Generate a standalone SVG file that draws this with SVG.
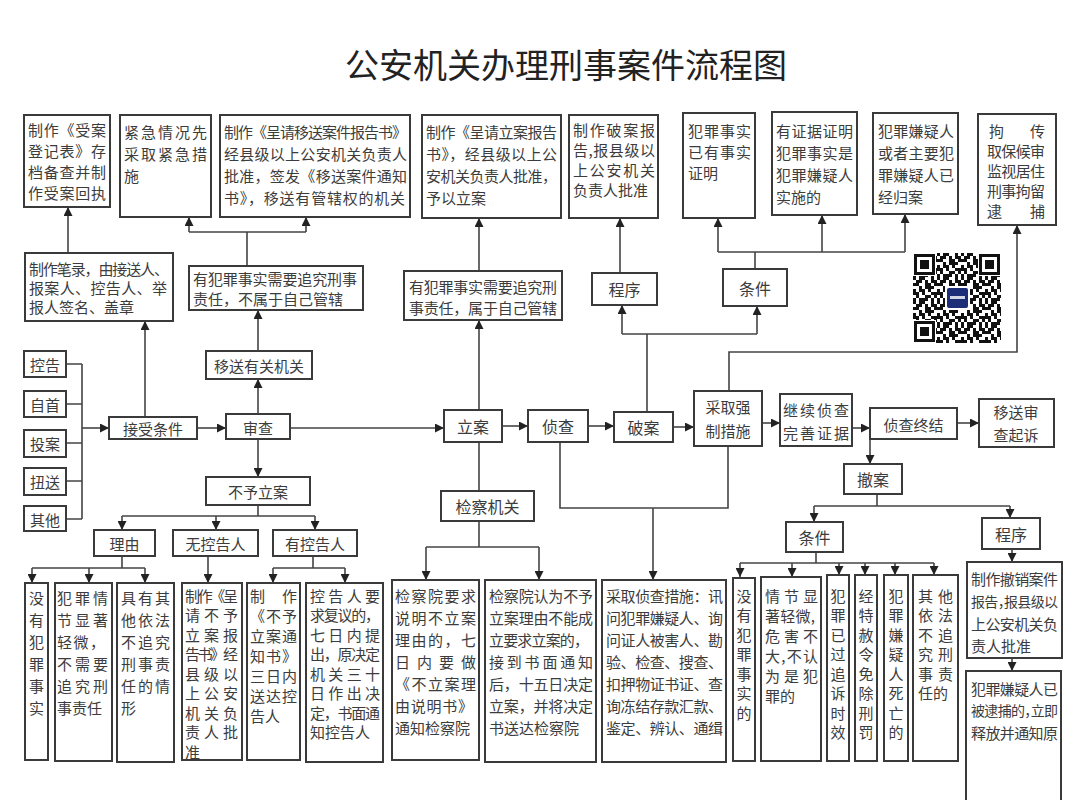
<svg xmlns="http://www.w3.org/2000/svg" width="1086" height="800" viewBox="0 0 1086 800">
<style>
.b{fill:#fff;stroke:#3a3a3a;stroke-width:2}
.t{font-family:"Noto Sans CJK SC","Noto Sans CJK TC",sans-serif;font-size:15px;fill:#3c3c3c;dominant-baseline:central}
.s{font-size:16px}
.h{font-size:14px;font-feature-settings:"halt"}
.c{text-anchor:middle}
.l{stroke:#444;stroke-width:1.6;fill:none}
.a{marker-end:url(#ah)}
.title{font-family:"Noto Sans CJK SC",sans-serif;font-size:34px;fill:#222;text-anchor:middle;dominant-baseline:central}
</style>
<defs>
<marker id="ah" markerWidth="9" markerHeight="9" refX="9" refY="4.5" orient="auto" markerUnits="userSpaceOnUse"><path d="M0,0 L9,4.5 L0,9 z" fill="#222"/></marker>
<pattern id="qrp" width="24" height="24" patternUnits="userSpaceOnUse" x="913" y="253"><path fill="#111" d="M0 0h3v3h-3z M6 0h6v3h-6z M18 0h3v3h-3z M3 3h6v3h-6z M12 3h3v3h-3z M18 3h6v3h-6z M0 6h6v3h-6z M12 6h6v3h-6z M21 6h3v3h-3z M6 9h3v3h-3z M12 9h9v3h-9z M0 12h3v3h-3z M6 12h6v3h-6z M15 12h3v3h-3z M0 15h6v3h-6z M9 15h3v3h-3z M18 15h6v3h-6z M3 18h3v3h-3z M12 18h6v3h-6z M21 18h3v3h-3z M0 21h3v3h-3z M6 21h9v3h-9z M18 21h3v3h-3z"/></pattern>
</defs>
<rect width="1086" height="800" fill="#fff"/>
<text class="title" x="566" y="63">公安机关办理刑事案件流程图</text>

<g id="connectors">
<path class="l" d="M66 364H82 M66 404H82 M66 443H82 M66 481H82 M66 519H82 M82 364V519"/>
<path class="l a" d="M82 428H109"/>
<path class="l a" d="M197 428H226"/>
<path class="l a" d="M145 417V321"/>
<path class="l a" d="M68 253V207"/>
<path class="l a" d="M258 414V379"/>
<path class="l a" d="M258 351V310"/>
<path class="l" d="M247 266V232 M189 232H306"/>
<path class="l a" d="M189 232V217"/>
<path class="l a" d="M306 232V217"/>
<path class="l a" d="M290 428H444"/>
<path class="l a" d="M258 439V477"/>
<path class="l" d="M258 505V516 M122 516H315"/>
<path class="l a" d="M122 516V530"/>
<path class="l a" d="M216 516V530"/>
<path class="l a" d="M315 516V530"/>
<path class="l" d="M122 556V568 M32 568H145"/>
<path class="l a" d="M32 568V583"/>
<path class="l a" d="M89 568V583"/>
<path class="l a" d="M145 568V583"/>
<path class="l a" d="M208 556V583"/>
<path class="l" d="M313 556V568 M273 568H345"/>
<path class="l a" d="M273 568V583"/>
<path class="l a" d="M345 568V583"/>
<path class="l a" d="M479 410V320"/>
<path class="l a" d="M479 271V218"/>
<path class="l" d="M479 442V491 M479 521V547 M426 547H539"/>
<path class="l a" d="M426 547V580"/>
<path class="l a" d="M539 547V580"/>
<path class="l a" d="M502 426H528"/>
<path class="l a" d="M588 426H614"/>
<path class="l a" d="M673 427H694"/>
<path class="l a" d="M762 423H780"/>
<path class="l a" d="M852 428H870"/>
<path class="l a" d="M957 423H979"/>
<path class="l" d="M647 412V334 M622 334H757"/>
<path class="l a" d="M622 334V305"/>
<path class="l a" d="M757 334V306"/>
<path class="l a" d="M620 273V218"/>
<path class="l" d="M755 269V252 M718 252H905"/>
<path class="l a" d="M718 252V218"/>
<path class="l a" d="M822 252V215"/>
<path class="l a" d="M905 252V214"/>
<path class="l a" d="M729 391V352H1017V225"/>
<path class="l" d="M560 442V508H728V446"/>
<path class="l a" d="M653 508V580"/>
<path class="l a" d="M870 439V464"/>
<path class="l" d="M877 494V506 M814 506H1010"/>
<path class="l a" d="M814 506V522"/>
<path class="l a" d="M1010 506V518"/>
<path class="l" d="M816 552V563 M740 563H934"/>
<path class="l a" d="M740 563V577"/>
<path class="l a" d="M792 563V577"/>
<path class="l a" d="M839 563V575"/>
<path class="l a" d="M865 563V575"/>
<path class="l a" d="M895 563V575"/>
<path class="l a" d="M934 563V575"/>
<path class="l a" d="M1012 549V562"/>
<path class="l a" d="M1012 658V671"/>
</g>

<g id="n-shouan">
<rect class="b" x="24" y="115" width="86" height="92"/>
<text class="t" x="28" y="129" textLength="78">制作《受案</text>
<text class="t" x="28" y="150" textLength="78">登记表》存</text>
<text class="t" x="28" y="171" textLength="78">档备查并制</text>
<text class="t" x="28" y="192" textLength="78">作受案回执</text>
</g>
<g id="n-jinji">
<rect class="b" x="120" y="115" width="91" height="102"/>
<text class="t" x="124" y="131" textLength="83">紧急情况先</text>
<text class="t" x="124" y="153" textLength="83">采取紧急措</text>
<text class="t" x="124" y="175">施</text>
</g>
<g id="n-yisongbg">
<rect class="b" x="220" y="115" width="190" height="102"/>
<text class="t" x="224" y="131" textLength="183">制作《呈请移送案件报告书》</text>
<text class="t" x="224" y="153" textLength="183">经县级以上公安机关负责人</text>
<text class="t" x="224" y="175" textLength="183">批准，签发《移送案件通知</text>
<text class="t" x="224" y="197" textLength="181">书》，移送有管辖权的机关</text>
</g>
<g id="n-lianbg">
<rect class="b" x="422" y="115" width="139" height="103"/>
<text class="t" x="426" y="131" textLength="131">制作《呈请立案报告</text>
<text class="t" x="426" y="153" textLength="131">书》，经县级以上公</text>
<text class="t" x="426" y="175" textLength="131">安机关负责人批准，</text>
<text class="t" x="426" y="197">予以立案</text>
</g>
<g id="n-poanbg">
<rect class="b" x="569" y="115" width="89" height="103"/>
<text class="t" x="573" y="129" textLength="82">制作破案报</text>
<text class="t" x="573" y="149" textLength="82">告,报县级以</text>
<text class="t" x="573" y="169" textLength="82">上公安机关</text>
<text class="t" x="573" y="189">负责人批准</text>
</g>
<g id="n-tj1">
<rect class="b" x="683" y="113" width="72" height="105"/>
<text class="t" x="688" y="130" textLength="63">犯罪事实</text>
<text class="t" x="688" y="151" textLength="63">已有事实</text>
<text class="t" x="688" y="172">证明</text>
</g>
<g id="n-tj2">
<rect class="b" x="772" y="112" width="85" height="103"/>
<text class="t" x="776" y="130" textLength="77">有证据证明</text>
<text class="t" x="776" y="152" textLength="77">犯罪事实是</text>
<text class="t" x="776" y="174" textLength="77">犯罪嫌疑人</text>
<text class="t" x="776" y="196">实施的</text>
</g>
<g id="n-tj3">
<rect class="b" x="873" y="113" width="85" height="101"/>
<text class="t" x="878" y="130" textLength="76">犯罪嫌疑人</text>
<text class="t" x="878" y="152" textLength="76">或者主要犯</text>
<text class="t" x="878" y="174" textLength="76">罪嫌疑人已</text>
<text class="t" x="878" y="196">经归案</text>
</g>
<g id="n-qiangzhi">
<rect class="b" x="978" y="114" width="78" height="111"/>
<text class="t" x="989" y="130">拘</text>
<text class="t" x="1030" y="130">传</text>
<text class="t" x="987" y="150" textLength="58">取保候审</text>
<text class="t" x="987" y="170" textLength="58">监视居住</text>
<text class="t" x="987" y="190" textLength="58">刑事拘留</text>
<text class="t" x="987" y="210">逮</text>
<text class="t" x="1030" y="210">捕</text>
</g>

<g id="n-bilu">
<rect class="b" x="25" y="253" width="148" height="68"/>
<text class="t" x="29" y="268" textLength="140">制作笔录，由接送人、</text>
<text class="t" x="29" y="287" textLength="138">报案人、控告人、举</text>
<text class="t" x="29" y="306">报人签名、盖章</text>
</g>
<g id="n-bushu">
<rect class="b" x="189" y="266" width="174" height="44"/>
<text class="t" x="193" y="278" textLength="164">有犯罪事实需要追究刑事</text>
<text class="t" x="193" y="298">责任，不属于自己管辖</text>
</g>
<g id="n-yisongjg">
<rect class="b" x="206" y="351" width="106" height="28"/>
<text class="t c" x="259" y="365">移送有关机关</text>
</g>
<g id="n-shuyu">
<rect class="b" x="404" y="271" width="158" height="49"/>
<text class="t" x="409" y="286" textLength="148">有犯罪事实需要追究刑</text>
<text class="t" x="409" y="307" textLength="148">事责任，属于自己管辖</text>
</g>
<g id="n-chengxu1">
<rect class="b" x="592" y="273" width="65" height="32"/>
<text class="t s c" x="624.5" y="289">程序</text>
</g>
<g id="n-tiaojian1">
<rect class="b" x="723" y="269" width="64" height="37"/>
<text class="t s c" x="755" y="288">条件</text>
</g>

<g id="qr">
<rect x="913" y="253" width="88" height="90" fill="#fff"/>
<rect x="913" y="253" width="88" height="90" fill="url(#qrp)"/>
<rect x="913" y="253" width="23" height="23" fill="#fff"/>
<rect x="914" y="254" width="21" height="21" fill="#111"/>
<rect x="917" y="257" width="15" height="15" fill="#fff"/>
<rect x="920" y="260" width="9" height="9" fill="#111"/>
<rect x="978" y="253" width="23" height="23" fill="#fff"/>
<rect x="979" y="254" width="21" height="21" fill="#111"/>
<rect x="982" y="257" width="15" height="15" fill="#fff"/>
<rect x="985" y="260" width="9" height="9" fill="#111"/>
<rect x="913" y="320" width="23" height="23" fill="#fff"/>
<rect x="914" y="321" width="21" height="21" fill="#111"/>
<rect x="917" y="324" width="15" height="15" fill="#fff"/>
<rect x="920" y="327" width="9" height="9" fill="#111"/>
<rect x="945" y="286" width="25" height="24" fill="#fff"/>
<rect x="947" y="288" width="21" height="20" rx="2" fill="#1d2e78"/>
<rect x="950" y="296" width="15" height="3" fill="#fff" opacity="0.8"/>
</g>

<g id="n-konggao"><rect class="b" x="24" y="351" width="42" height="26"/><text class="t c" x="45" y="364">控告</text></g>
<g id="n-zishou"><rect class="b" x="24" y="391" width="42" height="26"/><text class="t c" x="45" y="404">自首</text></g>
<g id="n-touan"><rect class="b" x="24" y="430" width="42" height="27"/><text class="t c" x="45" y="443">投案</text></g>
<g id="n-niusong"><rect class="b" x="24" y="468" width="42" height="27"/><text class="t c" x="45" y="481">扭送</text></g>
<g id="n-qita"><rect class="b" x="24" y="506" width="42" height="25"/><text class="t c" x="45" y="519">其他</text></g>

<g id="n-jieshou"><rect class="b" x="109" y="417" width="88" height="22"/><text class="t c" x="153" y="428">接受条件</text></g>
<g id="n-shencha"><rect class="b" x="226" y="414" width="64" height="25"/><text class="t c" x="258" y="427">审查</text></g>
<g id="n-lian"><rect class="b" x="444" y="410" width="58" height="32"/><text class="t s c" x="473" y="426">立案</text></g>
<g id="n-zhencha"><rect class="b" x="528" y="410" width="60" height="32"/><text class="t s c" x="558" y="426">侦查</text></g>
<g id="n-poan"><rect class="b" x="614" y="412" width="59" height="30"/><text class="t s c" x="643.5" y="427">破案</text></g>
<g id="n-caiqu"><rect class="b" x="694" y="391" width="68" height="55"/><text class="t c" x="728" y="406.5">采取强</text><text class="t c" x="728" y="430">制措施</text></g>
<g id="n-jixu"><rect class="b" x="780" y="394" width="72" height="52"/><text class="t" x="783" y="409" textLength="66">继续侦查</text><text class="t" x="783" y="432" textLength="66">完善证据</text></g>
<g id="n-zhongjie"><rect class="b" x="870" y="408" width="87" height="31"/><text class="t c" x="913.5" y="424">侦查终结</text></g>
<g id="n-qisu"><rect class="b" x="979" y="399" width="75" height="48"/><text class="t c" x="1016" y="411.5">移送审</text><text class="t c" x="1016" y="434.5">查起诉</text></g>
<g id="n-chean"><rect class="b" x="844" y="464" width="58" height="30"/><text class="t s c" x="873" y="479">撤案</text></g>
<g id="n-tiaojian2"><rect class="b" x="786" y="522" width="57" height="30"/><text class="t s c" x="814.5" y="537">条件</text></g>
<g id="n-chengxu2"><rect class="b" x="982" y="518" width="58" height="31"/><text class="t s c" x="1011" y="533.5">程序</text></g>
<g id="n-buyu"><rect class="b" x="206" y="477" width="104" height="28"/><text class="t c" x="258" y="491">不予立案</text></g>
<g id="n-liyou"><rect class="b" x="94" y="530" width="61" height="26"/><text class="t c" x="124.5" y="543">理由</text></g>
<g id="n-wukg"><rect class="b" x="173" y="530" width="85" height="26"/><text class="t c" x="215.5" y="543">无控告人</text></g>
<g id="n-youkg"><rect class="b" x="273" y="530" width="84" height="26"/><text class="t c" x="315" y="543">有控告人</text></g>
<g id="n-jiancha"><rect class="b" x="441" y="491" width="93" height="30"/><text class="t s c" x="487.5" y="506">检察机关</text></g>

<g id="n-l1">
<rect class="b" x="25" y="583" width="23" height="177"/>
<text class="t c" x="36.5" y="597">没</text><text class="t c" x="36.5" y="619">有</text><text class="t c" x="36.5" y="641">犯</text><text class="t c" x="36.5" y="663">罪</text><text class="t c" x="36.5" y="685">事</text><text class="t c" x="36.5" y="707">实</text>
</g>
<g id="n-l2">
<rect class="b" x="55" y="583" width="57" height="178"/>
<text class="t" x="57" y="597" textLength="51">犯罪情</text>
<text class="t" x="57" y="619" textLength="51">节显著</text>
<text class="t" x="57" y="641" textLength="48">轻微，</text>
<text class="t" x="57" y="663" textLength="51">不需要</text>
<text class="t" x="57" y="685" textLength="51">追究刑</text>
<text class="t" x="57" y="707">事责任</text>
</g>
<g id="n-l3">
<rect class="b" x="117" y="583" width="57" height="179"/>
<text class="t" x="121" y="597" textLength="49">具有其</text>
<text class="t" x="121" y="619" textLength="49">他依法</text>
<text class="t" x="121" y="641" textLength="49">不追究</text>
<text class="t" x="121" y="663" textLength="49">刑事责</text>
<text class="t" x="121" y="685" textLength="49">任的情</text>
<text class="t" x="121" y="707">形</text>
</g>
<g id="n-l4">
<rect class="b" x="182" y="583" width="60" height="177"/>
<text class="t" x="185" y="595" textLength="53">制作《呈</text>
<text class="t" x="185" y="614.5" textLength="53">请不予</text>
<text class="t" x="185" y="634" textLength="53">立案报</text>
<text class="t" x="185" y="653.5" textLength="53">告书》经</text>
<text class="t" x="185" y="673" textLength="53">县级以</text>
<text class="t" x="185" y="692.5" textLength="53">上公安</text>
<text class="t" x="185" y="712" textLength="53">机关负</text>
<text class="t" x="185" y="731.5" textLength="53">责人批</text>
<text class="t" x="185" y="751">准</text>
</g>
<g id="n-l5">
<rect class="b" x="247" y="583" width="53" height="177"/>
<text class="t" x="250" y="595">制</text><text class="t" x="282" y="595">作</text>
<text class="t" x="250" y="615" textLength="47">《不予</text>
<text class="t" x="250" y="635" textLength="47">立案通</text>
<text class="t" x="250" y="655" textLength="47">知书》</text>
<text class="t" x="250" y="675" textLength="47">三日内</text>
<text class="t" x="250" y="695" textLength="47">送达控</text>
<text class="t" x="250" y="715">告人</text>
</g>
<g id="n-l6">
<rect class="b" x="306" y="583" width="77" height="179"/>
<text class="t" x="310" y="595" textLength="70">控告人要</text>
<text class="t" x="310" y="614.5" textLength="70">求复议的，</text>
<text class="t" x="310" y="634" textLength="70">七日内提</text>
<text class="t" x="310" y="653.5" textLength="70">出，原决定</text>
<text class="t" x="310" y="673" textLength="70">机关三十</text>
<text class="t" x="310" y="692.5" textLength="70">日作出决</text>
<text class="t" x="310" y="712" textLength="70">定，书面通</text>
<text class="t" x="310" y="731.5">知控告人</text>
</g>

<g id="n-m1">
<rect class="b" x="392" y="580" width="87" height="180"/>
<text class="t" x="395" y="595" textLength="81">检察院要求</text>
<text class="t" x="395" y="617" textLength="81">说明不立案</text>
<text class="t" x="395" y="639" textLength="81">理由的，七</text>
<text class="t" x="395" y="661" textLength="81">日内要做</text>
<text class="t" x="395" y="683" textLength="81">《不立案理</text>
<text class="t" x="395" y="705" textLength="78">由说明书》</text>
<text class="t" x="395" y="727">通知检察院</text>
</g>
<g id="n-m2">
<rect class="b" x="485" y="580" width="111" height="182"/>
<text class="t" x="489" y="595" textLength="104">检察院认为不予</text>
<text class="t" x="489" y="617" textLength="104">立案理由不能成</text>
<text class="t" x="489" y="639" textLength="100">立要求立案的，</text>
<text class="t" x="489" y="661" textLength="104">接到书面通知</text>
<text class="t" x="489" y="683" textLength="104">后，十五日决定</text>
<text class="t" x="489" y="705" textLength="104">立案，并将决定</text>
<text class="t" x="489" y="727">书送达检察院</text>
</g>
<g id="n-m3">
<rect class="b" x="602" y="580" width="124" height="182"/>
<text class="t" x="606" y="595" textLength="117">采取侦查措施：讯</text>
<text class="t" x="606" y="617" textLength="117">问犯罪嫌疑人、询</text>
<text class="t" x="606" y="639" textLength="117">问证人被害人、勘</text>
<text class="t" x="606" y="661" textLength="117">验、检查、搜查、</text>
<text class="t" x="606" y="683" textLength="117">扣押物证书证、查</text>
<text class="t" x="606" y="705" textLength="117">询冻结存款汇款、</text>
<text class="t" x="606" y="727" textLength="117">鉴定、辨认、通缉</text>
</g>

<g id="n-r1">
<rect class="b" x="733" y="578" width="22" height="183"/>
<text class="t c" x="744" y="595">没</text><text class="t c" x="744" y="614.5">有</text><text class="t c" x="744" y="634">犯</text><text class="t c" x="744" y="653.5">罪</text><text class="t c" x="744" y="673">事</text><text class="t c" x="744" y="692.5">实</text><text class="t c" x="744" y="712">的</text>
</g>
<g id="n-r2">
<rect class="b" x="761" y="577" width="60" height="184"/>
<text class="t" x="765" y="595" textLength="53">情节显</text>
<text class="t" x="765" y="615" textLength="50">著轻微,</text>
<text class="t" x="765" y="635" textLength="53">危害不</text>
<text class="t" x="765" y="655" textLength="53">大,不认</text>
<text class="t" x="765" y="675" textLength="53">为是犯</text>
<text class="t" x="765" y="695">罪的</text>
</g>
<g id="n-r3">
<rect class="b" x="827" y="575" width="22" height="186"/>
<text class="t c" x="838" y="595">犯</text><text class="t c" x="838" y="614.5">罪</text><text class="t c" x="838" y="634">已</text><text class="t c" x="838" y="653.5">过</text><text class="t c" x="838" y="673">追</text><text class="t c" x="838" y="692.5">诉</text><text class="t c" x="838" y="712">时</text><text class="t c" x="838" y="731.5">效</text>
</g>
<g id="n-r4">
<rect class="b" x="855" y="575" width="22" height="186"/>
<text class="t c" x="866" y="595">经</text><text class="t c" x="866" y="614.5">特</text><text class="t c" x="866" y="634">赦</text><text class="t c" x="866" y="653.5">令</text><text class="t c" x="866" y="673">免</text><text class="t c" x="866" y="692.5">除</text><text class="t c" x="866" y="712">刑</text><text class="t c" x="866" y="731.5">罚</text>
</g>
<g id="n-r5">
<rect class="b" x="884" y="575" width="24" height="186"/>
<text class="t c" x="896" y="595">犯</text><text class="t c" x="896" y="614.5">罪</text><text class="t c" x="896" y="634">嫌</text><text class="t c" x="896" y="653.5">疑</text><text class="t c" x="896" y="673">人</text><text class="t c" x="896" y="692.5">死</text><text class="t c" x="896" y="712">亡</text><text class="t c" x="896" y="731.5">的</text>
</g>
<g id="n-r6">
<rect class="b" x="913" y="575" width="45" height="186"/>
<text class="t" x="918" y="595" textLength="35">其他</text>
<text class="t" x="918" y="614.5" textLength="35">依法</text>
<text class="t" x="918" y="634" textLength="35">不追</text>
<text class="t" x="918" y="653.5" textLength="35">究刑</text>
<text class="t" x="918" y="673" textLength="35">事责</text>
<text class="t" x="918" y="692.5">任的</text>
</g>
<g id="n-p1">
<rect class="b" x="967" y="562" width="95" height="96"/>
<text class="t" x="971" y="578" textLength="87">制作撤销案件</text>
<text class="t h" x="971" y="601" textLength="87">报告，报县级以</text>
<text class="t" x="971" y="623" textLength="87">上公安机关负</text>
<text class="t" x="971" y="645">责人批准</text>
</g>
<g id="n-p2">
<rect class="b" x="966" y="671" width="95" height="140"/>
<text class="t" x="971" y="688" textLength="87">犯罪嫌疑人已</text>
<text class="t h" x="971" y="710" textLength="87">被逮捕的，立即</text>
<text class="t" x="971" y="732" textLength="87">释放并通知原</text>
</g>
</svg>
